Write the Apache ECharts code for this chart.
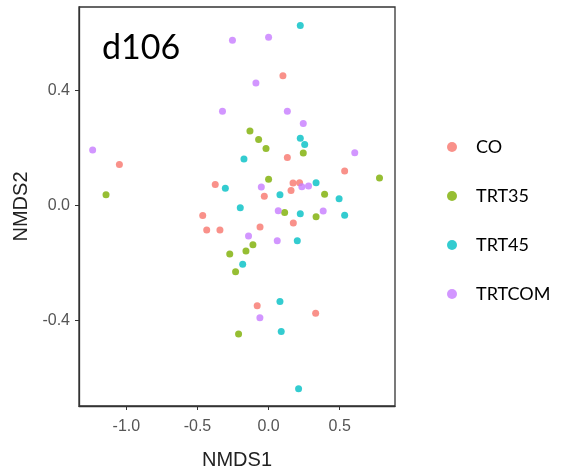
<!DOCTYPE html>
<html>
<head>
<meta charset="utf-8">
<script src="https://cdn.jsdelivr.net/npm/echarts@6/dist/echarts.min.js"></script>
<style>html,body{margin:0;padding:0;background:#fff;}#c{width:573px;height:475px;}</style>
</head>
<body>
<div id="c"></div>
<script>
var groups = ['CO', 'TRT35', 'TRT45', 'TRTCOM'];
var colors = ['#F8766D', '#7CAE00', '#00BFC4', '#C77CFF'];
var xTicks = [-1.0, -0.5, 0.0, 0.5];
var yTicks = [-0.4, 0.0, 0.4];

var coPoints = [
  [0.101, 0.450], [-1.049, 0.142], [0.132, 0.167], [0.535, 0.120],
  [-0.375, 0.073], [0.172, 0.078], [0.218, 0.079], [0.158, 0.052],
  [-0.030, 0.032], [-0.463, -0.035], [-0.435, -0.085], [-0.342, -0.085],
  [0.174, -0.061], [-0.060, -0.075], [-0.080, -0.348], [0.331, -0.374]
];
var trt35Points = [
  [-1.143, 0.037], [-0.131, 0.259], [-0.070, 0.229], [-0.018, 0.198],
  [0.244, 0.182], [0.780, 0.095], [0.000, 0.091], [0.394, 0.039],
  [0.113, -0.024], [0.334, -0.039], [-0.110, -0.136], [-0.159, -0.158],
  [-0.273, -0.168], [-0.232, -0.230], [-0.211, -0.446]
];
var trt45Points = [
  [0.223, 0.625], [0.223, 0.233], [0.254, 0.212], [-0.173, 0.161],
  [-0.304, 0.060], [0.334, 0.079], [0.080, 0.037], [0.496, 0.023],
  [-0.199, -0.008], [0.223, -0.029], [0.535, -0.034], [0.202, -0.122],
  [-0.182, -0.204], [0.080, -0.333], [0.089, -0.437], [0.211, -0.636]
];
var trtcomPoints = [
  [-0.254, 0.574], [0.000, 0.584], [-0.089, 0.425], [-0.324, 0.327],
  [0.132, 0.327], [0.244, 0.285], [-1.237, 0.193], [0.606, 0.183],
  [-0.051, 0.064], [0.234, 0.065], [0.281, 0.068], [0.068, -0.018],
  [0.384, -0.019], [-0.141, -0.106], [0.061, -0.122], [-0.061, -0.390]
];
var allPoints = [coPoints, trt35Points, trt45Points, trtcomPoints];

var chart = echarts.init(document.getElementById('c'), null, {renderer: 'canvas'});
var axisFont = 'Liberation Sans, Arial, sans-serif';
chart.setOption({
  animation: false,
  backgroundColor: '#ffffff',
  title: {
    text: 'd106', left: 97, top: 26,
    textStyle: {fontFamily: 'Lato, sans-serif', fontSize: 34, fontWeight: 'normal', color: '#000'}
  },
  legend: {
    orient: 'vertical', left: 442, top: 132, itemGap: 29,
    icon: 'circle', itemWidth: 10, itemHeight: 10,
    data: groups,
    textStyle: {fontFamily: 'Lato, sans-serif', fontSize: 18, lineHeight: 20, color: '#000', padding: [0, 0, 0, 14]}
  },
  grid: {
    left: 79, top: 7, width: 316, height: 410,
    show: true, borderColor: '#333333', borderWidth: 1.3, backgroundColor: '#fff'
  },
  xAxis: {
    type: 'value', min: -1.333, max: 0.889,
    name: 'NMDS1', nameLocation: 'middle', nameGap: 44,
    nameTextStyle: {fontFamily: axisFont, fontSize: 20, color: '#222'},
    axisLine: {show: true, onZero: false, lineStyle: {color: '#333', width: 1.3}},
    axisTick: {show: true, length: 4, customValues: xTicks, lineStyle: {color: '#333'}},
    axisLabel: {customValues: xTicks, margin: 13, fontFamily: axisFont, fontSize: 16, color: '#555',
      formatter: function (v) { return v.toFixed(1); }},
    splitLine: {show: false}
  },
  yAxis: {
    type: 'value', min: -0.696, max: 0.689,
    name: 'NMDS2', nameLocation: 'middle', nameGap: 45, nameRotate: 90,
    nameTextStyle: {fontFamily: axisFont, fontSize: 20, color: '#222'},
    axisLine: {show: true, onZero: false, lineStyle: {color: '#333', width: 1.3}},
    axisTick: {show: true, length: 4, customValues: yTicks, lineStyle: {color: '#333'}},
    axisLabel: {customValues: yTicks, margin: 9, fontFamily: axisFont, fontSize: 16, color: '#555',
      formatter: function (v) { return v.toFixed(1); }},
    splitLine: {show: false}
  },
  series: groups.map(function (g, i) {
    return {
      name: g, type: 'scatter', data: allPoints[i], symbolSize: 7,
      itemStyle: {color: colors[i]}
    };
  })
});
</script>
</body>
</html>
